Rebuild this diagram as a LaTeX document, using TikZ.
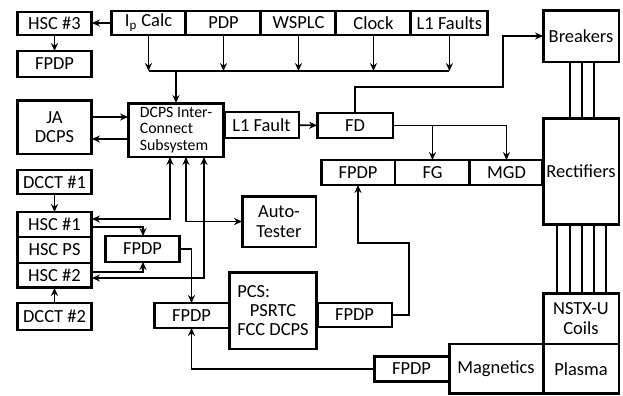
\documentclass[tikz,border=0pt]{standalone}
\usepackage{fontspec}
\setmainfont{Carlito}
\usetikzlibrary{arrows.meta, positioning}

\begin{document}
\begin{tikzpicture}[
  x=0.02cm, y=-0.02cm,
  blk/.style={
    rectangle, draw, line width=1.7pt, outer sep=0pt, inner sep=1pt,
    minimum width=1.5cm, minimum height=0.5cm, align=center,
    font=\fontsize{10.5}{11}\selectfont,
  },
  conn/.style={line width=0.9pt},
  arr/.style={-{Stealth[length=4.5pt, width=4pt]}, line width=0.9pt},
  arrs/.style={{Stealth[length=4.5pt, width=4pt]}-{Stealth[length=4.5pt, width=4pt]}, line width=0.9pt},
]
\useasboundingbox (0,0) rectangle (623,396);

% Top row of sources
\node[blk, minimum height=0.48cm] (ipcalc) at (148.5,23) {I\textsubscript{p} Calc};
\node[blk, minimum height=0.48cm, right=0pt of ipcalc] (pdp) {PDP};
\node[blk, minimum height=0.48cm, right=0pt of pdp] (wsplc) {WSPLC};
\node[blk, minimum height=0.48cm, right=0pt of wsplc] (clock) {Clock};
\node[blk, minimum height=0.48cm, minimum width=1.54cm, right=0pt of clock] (l1faults) {L1 Faults};
\coordinate (bus) at (0,71);

% Left column
\node[blk, minimum height=0.46cm] (hsc3) at (54.5,23.5) {HSC \#3};
\node[blk, minimum height=0.52cm] (fpdpA) at (54.5,64) {FPDP};
\node[blk, minimum height=1.08cm] (ja) at (54.5,127) {JA\\DCPS};
\node[blk, minimum height=0.48cm] (dcct1) at (54.5,182) {DCCT \#1};
\node[blk] (hsc1) at (54.5,224.5) {HSC \#1};
\node[blk, minimum height=0.52cm, below=0pt of hsc1] (hscps) {HSC PS};
\node[blk, below=0pt of hscps] (hsc2) {HSC \#2};
\node[blk, minimum height=0.54cm] (dcct2) at (54.5,316.5) {DCCT \#2};

% Middle
\node[blk, minimum width=1.92cm, minimum height=1.08cm, align=left,
  font=\fontsize{9}{9.2}\selectfont] (dcps) at (176,130) {DCPS Inter-\\Connect\\Subsystem};
\node[blk, minimum height=0.52cm] (l1f) at (261.5,125) {L1 Fault};
\node[blk, minimum height=0.52cm] (fpdpC) at (142.5,249) {FPDP};
\node[blk, minimum width=1.48cm, minimum height=1.02cm] (auto) at (279,221.5) {Auto-\\Tester};
\node[blk, minimum width=1.76cm, minimum height=1.54cm] (pcs) at (273,310.5)
  {\hbox to 0pt{PCS:\hss}\phantom{FCC DCPS}\\PSRTC\\FCC DCPS};
\node[blk] (fpdpL) at (191.5,315.5) {FPDP};
\node[blk, minimum height=0.48cm] (fpdpR) at (354.5,315) {FPDP};

% Fault detection
\node[blk, minimum width=1.52cm] (fd) at (355,125.5) {FD};
\node[blk, minimum width=1.48cm] (fpdpB) at (358,172.5) {FPDP};
\node[blk, right=0pt of fpdpB] (fg) {FG};
\node[blk, minimum width=1.46cm, right=0pt of fg] (mgd) {MGD};

% Power and machine
\node[blk, minimum width=1.52cm, minimum height=1.04cm] (breakers) at (581,36) {Breakers};
\node[blk, minimum width=1.52cm, minimum height=2.14cm] (rect) at (581,171.5) {Rectifiers};
\node[blk, minimum width=1.52cm, minimum height=1.02cm] (coils) at (581,318.5) {NSTX-U\\Coils};
\node[blk, minimum width=1.52cm, minimum height=1.0cm, below=0pt of coils] (plasma) {Plasma};
\node[blk, minimum width=1.88cm, minimum height=1.0cm, left=0pt of plasma] (magn) {Magnetics};
\node[blk, left=0pt of magn] (fpdpM) {FPDP};

% Arrows
\draw[arr] (ipcalc) -- (ipcalc.west -| hsc3.east);
\draw[arr] (hsc3) -- (fpdpA);
\foreach \n in {ipcalc,pdp,wsplc,clock,l1faults}
  \draw[arr] (\n.south) -- (\n.south |- bus);
\draw[conn] (ipcalc.south |- bus) -- (l1faults.south |- bus);
\draw[arr] (dcps.north |- bus) -- (dcps.north);
\draw[arr] (ja.east |- 0,117) -- (dcps.west |- 0,117);
\draw[arr] (dcps.west |- 0,139) -- (ja.east |- 0,139);
\draw[arr] (l1f) -- (fd);
\draw[arr] (fd.north) |- (503,87) |- (breakers.west);
\draw[arr] (fd.east) -| (mgd.north);
\draw[arr] (fd.east -| fg.north) -- (fg.north);
\draw[arr] (dcct1) -- (hsc1);
\draw[arr] (dcct2) -- (hsc2);
\draw[arrs] (hsc1.east |- 0,219) -| (170,0 |- dcps.south);
\draw[arrs] (auto.west) -| (186,0 |- dcps.south);
\draw[arrs] (hsc2.east |- 0,278) -| (204,0 |- dcps.south);
\draw[arr] (hsc1.east |- 0,227) -| (143,0 |- fpdpC.north);
\draw[arr] (hsc2.east |- 0,272) -| (143,0 |- fpdpC.south);
\draw[arr] (fpdpC.east) -| (fpdpL.north);
\draw[arr] (fpdpR.east) -| (409,243) -| (fpdpB.south);
\draw[arr] (fpdpM.west) -| (fpdpL.south);

% Power feeds
\foreach \dx in {-11,1,13}
  \draw[conn] ([xshift=\dx*0.02cm]breakers.south) -- ([xshift=\dx*0.02cm]rect.north);
\foreach \dx in {-24,-11,1,13,25}
  \draw[conn] ([xshift=\dx*0.02cm]rect.south) -- ([xshift=\dx*0.02cm]coils.north);

\end{tikzpicture}
\end{document}
